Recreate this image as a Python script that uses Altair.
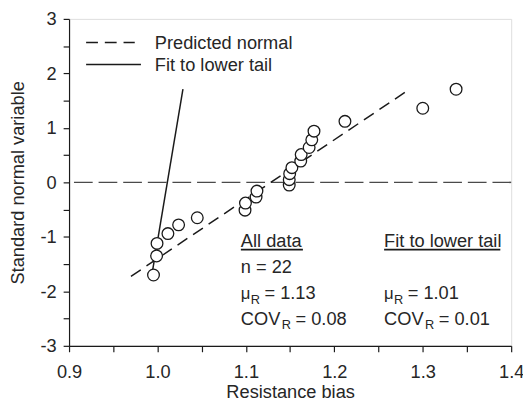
import altair as alt
import pandas as pd

# ---- data ----
bias = [0.9955, 0.999, 0.9995, 1.0118, 1.0239, 1.045, 1.099, 1.0995, 1.1115, 1.1125,
        1.149, 1.149, 1.1495, 1.152, 1.162, 1.1625, 1.1715, 1.1745, 1.177, 1.212,
        1.300, 1.3377]
snv = [-1.70, -1.35, -1.12, -0.94, -0.78, -0.65, -0.51, -0.38, -0.27, -0.16,
       -0.05, 0.05, 0.16, 0.27, 0.39, 0.51, 0.64, 0.78, 0.94, 1.12,
       1.36, 1.71]

pred_x = [0.970, 1.2838]
pred_y = [-1.725, 1.695]
fit_x = [0.9935, 1.0288]
fit_y = [-1.71, 1.71]

x_ticks = [0.9, 0.95, 1.0, 1.05, 1.1, 1.15, 1.2, 1.25, 1.3, 1.35, 1.4]
y_ticks = [-3, -2.5, -2, -1.5, -1, -0.5, 0, 0.5, 1, 1.5, 2, 2.5, 3]

legend_labels = ["Predicted normal", "Fit to lower tail"]

all_title = "All data"
tail_title = "Fit to lower tail"
n_text = "n = 22"
mu_all = "= 1.13"
cov_all = "= 0.08"
mu_tail = "= 1.01"
cov_tail = "= 0.01"

# ---- styling ----
W, H = 449, 332
FONT = "Liberation Sans"
FS = 18.5
TXT = "#262626"
LN = "#1a1a1a"

xs = alt.Scale(domain=[0.9, 1.4], nice=False, zero=False)
ys = alt.Scale(domain=[-3, 3], nice=False, zero=False)

xaxis = alt.Axis(title="Resistance bias", values=x_ticks,
                 labelExpr="round(datum.value*100) % 10 == 0 ? format(datum.value, '.1f') : ''",
                 tickSize=6, labelPadding=11, grid=False,
                 labelFont=FONT, titleFont=FONT, labelFontSize=FS, titleFontSize=FS,
                 titleFontWeight="normal", labelColor=TXT, titleColor=TXT,
                 domainColor=LN, tickColor=LN, domainWidth=1.2, tickWidth=1.2,
                 labelFlush=False, labelOverlap=False,
                 titleY=52, titleBaseline="alphabetic")
yaxis = alt.Axis(title="Standard normal variable", values=y_ticks,
                 labelExpr="datum.value % 1 == 0 ? toString(datum.value) : ''",
                 tickSize=6, labelPadding=7, grid=False,
                 labelFont=FONT, titleFont=FONT, labelFontSize=FS, titleFontSize=FS,
                 titleFontWeight="normal", labelColor=TXT, titleColor=TXT,
                 domainColor=LN, tickColor=LN, domainWidth=1.2, tickWidth=1.2,
                 labelFlush=False, labelOverlap=False,
                 titleX=-46, titleY=H / 2, titleAngle=270,
                 titleBaseline="alphabetic", titleAlign="center")


def X(field=None, datum=None):
    if datum is not None:
        return alt.X(datum=datum, type="quantitative", scale=xs, axis=xaxis)
    return alt.X(field, type="quantitative", scale=xs, axis=xaxis)


def Y(field=None, datum=None):
    if datum is not None:
        return alt.Y(datum=datum, type="quantitative", scale=ys, axis=yaxis)
    return alt.Y(field, type="quantitative", scale=ys, axis=yaxis)


pts = pd.DataFrame({"bias": bias, "snv": snv})
pred = pd.DataFrame({"bias": pred_x, "snv": pred_y})
fit = pd.DataFrame({"bias": fit_x, "snv": fit_y})

zero = alt.Chart(pd.DataFrame({"snv": [0]})).mark_rule(
    color="#4a4a4a", strokeWidth=1.5, strokeDash=[19, 6]).encode(y=Y("snv"))

pred_line = alt.Chart(pred).mark_line(
    color=LN, strokeWidth=1.5, strokeDash=[12, 7]).encode(x=X("bias"), y=Y("snv"))
fit_line = alt.Chart(fit).mark_line(
    color=LN, strokeWidth=1.5).encode(x=X("bias"), y=Y("snv"))

circles = alt.Chart(pts).mark_circle(
    fill="white", stroke=LN, strokeWidth=1.3, size=141, opacity=1
).encode(x=X("bias"), y=Y("snv"))

layers = [zero, pred_line, fit_line, circles]

# legend (inside plot, top-left)
LEG_X0, LEG_X1a, LEG_X1b, LEG_TX = 0.9193, 0.9743, 0.9813, 0.9970
LEG_Y = [2.566, 2.163]
LEG_TY = [2.445, 2.037]
layers.append(alt.Chart(pd.DataFrame({"a": [0]})).mark_rule(
    color=LN, strokeWidth=1.5, strokeDash=[12, 7]).encode(
    x=X(datum=LEG_X0), x2=alt.X2(datum=LEG_X1a), y=Y(datum=LEG_Y[0])))
layers.append(alt.Chart(pd.DataFrame({"a": [0]})).mark_rule(
    color=LN, strokeWidth=1.5).encode(
    x=X(datum=LEG_X0), x2=alt.X2(datum=LEG_X1b), y=Y(datum=LEG_Y[1])))


def txt(s, x, y, size=FS, dx=0, dy=0):
    return alt.Chart(pd.DataFrame({"a": [0]})).mark_text(
        text=s, align="left", baseline="alphabetic", font=FONT, fontSize=size,
        color=TXT, dx=dx, dy=dy).encode(x=X(datum=x), y=Y(datum=y))


for lab, ty in zip(legend_labels, LEG_TY):
    layers.append(txt(lab, LEG_TX, ty))

# annotation block
CX = [1.0943, 1.2563]
ROW = [-1.18, -1.668, -2.145, -2.615]
UL_Y = -1.234
UL_W = [63 / 898, 118 / 898]

layers.append(txt(all_title, CX[0], ROW[0]))
layers.append(txt(tail_title, CX[1], ROW[0]))
for cx, w in zip(CX, UL_W):
    layers.append(alt.Chart(pd.DataFrame({"a": [0]})).mark_rule(
        color=LN, strokeWidth=1.6).encode(
        x=X(datum=cx), x2=alt.X2(datum=cx + w), y=Y(datum=UL_Y)))
layers.append(txt(n_text, CX[0], ROW[1]))
for cx, mu_s, cov_s in [(CX[0], mu_all, cov_all), (CX[1], mu_tail, cov_tail)]:
    layers.append(txt("μ", cx, ROW[2], size=17))
    layers.append(txt("R", cx, ROW[2], size=13, dx=10, dy=4.5))
    layers.append(txt(mu_s, cx, ROW[2], dx=24))
    layers.append(txt("COV", cx, ROW[3]))
    layers.append(txt("R", cx, ROW[3], size=13, dx=41.5, dy=4.5))
    layers.append(txt(cov_s, cx, ROW[3], dx=55.5))

chart = alt.layer(*layers).properties(
    width=W, height=H,
    autosize=alt.AutoSizeParams(type="none"),
    padding={"left": 62, "top": 8, "right": 12, "bottom": 56},
).configure_view(stroke=LN, strokeWidth=1.2).configure(background="white")

chart.save("out.html", embed_options={"renderer": "svg", "actions": False})
